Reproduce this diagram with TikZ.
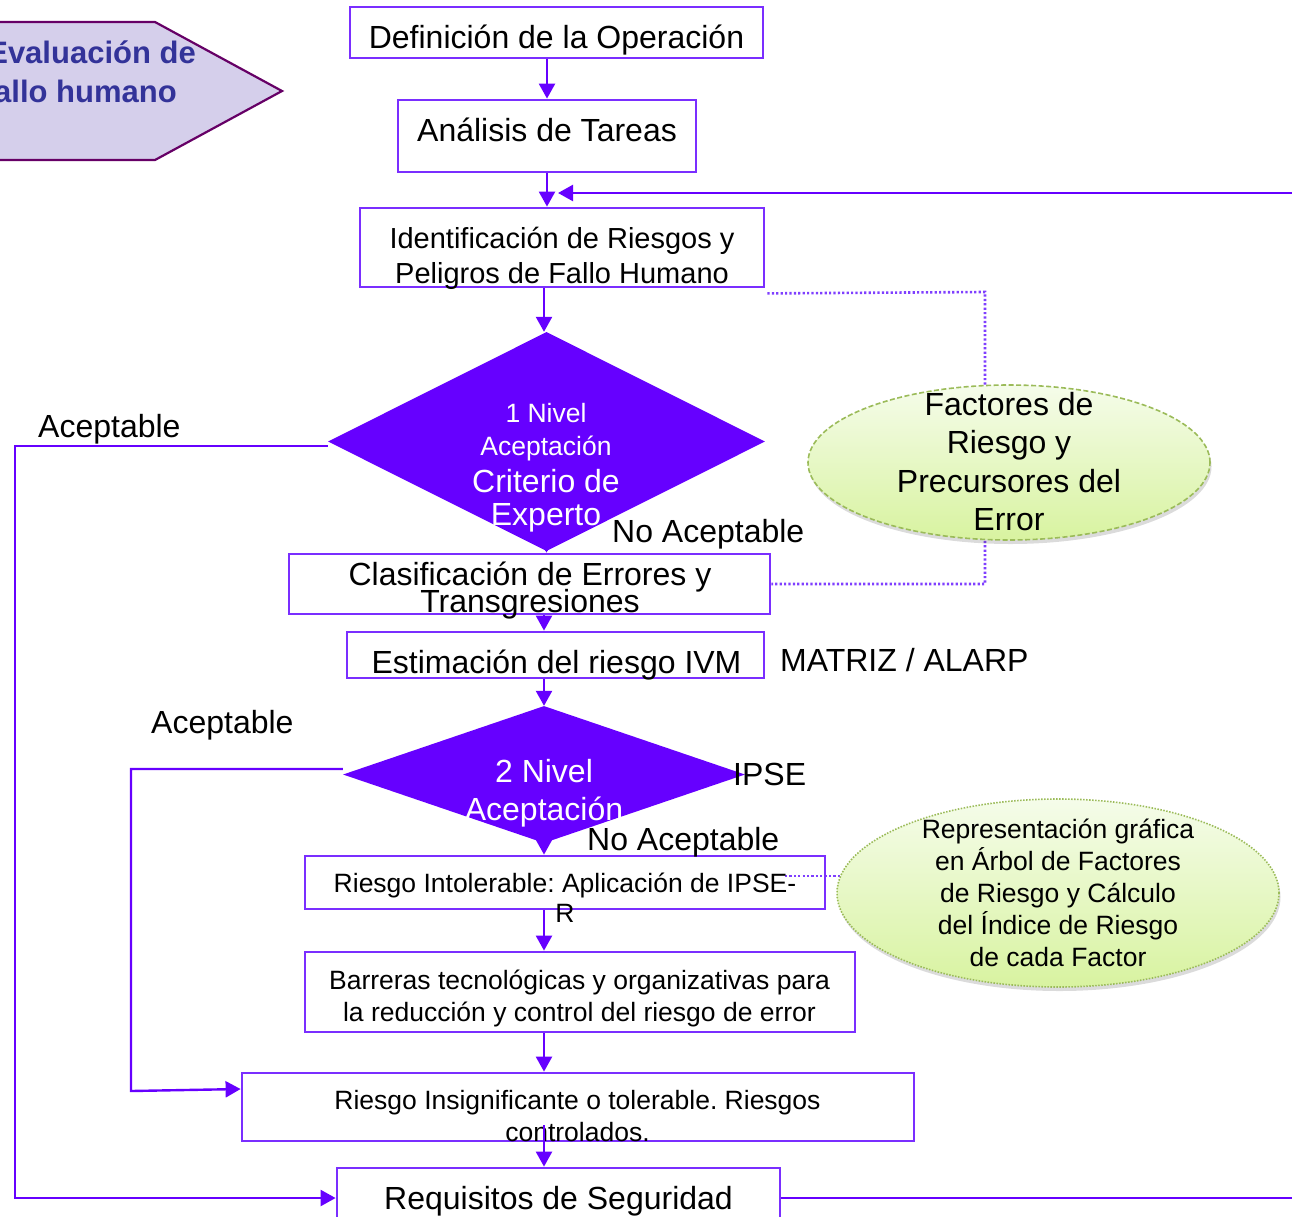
\documentclass[tikz,border=0pt]{standalone}
\usepackage{fontspec}
\setmainfont{Liberation Sans}
\usetikzlibrary{shapes.geometric,arrows.meta,shadows}
\frenchspacing
\definecolor{vio}{HTML}{6600FF}
\definecolor{boxc}{HTML}{7A2EFF}
\definecolor{dotc}{HTML}{7F3FFF}
\definecolor{lav}{HTML}{D5CFEB}
\definecolor{pent}{HTML}{660066}
\definecolor{ptxt}{HTML}{333399}
\definecolor{gtop}{HTML}{F5FCEA}
\definecolor{gbot}{HTML}{D8F3A0}
\definecolor{gline}{HTML}{9BBB59}
\pgfdeclarelayer{bg}
\pgfsetlayers{bg,main}
\begin{document}
\begin{tikzpicture}[x=1pt,y=-1pt,
  boxn/.style={draw=boxc, line width=2.8pt, rectangle, inner sep=0pt},
  arr/.style={draw=vio, line width=2.4pt, -{Triangle[length=15pt,width=16pt]}},
  dotln/.style={draw=dotc, line width=2.6pt, dash pattern=on 2.2pt off 2.2pt},
  tbig/.style={font=\fontsize{32}{38}\selectfont, anchor=base, inner sep=0pt},
  tmid/.style={font=\fontsize{29}{35}\selectfont, anchor=base, inner sep=0pt},
  tsml/.style={font=\fontsize{26.5}{32}\selectfont, anchor=base, inner sep=0pt},
  lbl/.style={font=\fontsize{32}{38}\selectfont, anchor=base west, inner sep=0pt},
  decis/.style={diamond, fill=vio, inner sep=0pt},
  greenov/.style={ellipse, top color=gtop, bottom color=gbot, line width=1.6pt, draw=gline,
     drop shadow={shadow xshift=1.5pt, shadow yshift=-4pt, opacity=0.2, fill=black!70}},
  ptitle/.style={font=\fontsize{31}{37}\selectfont\bfseries, text=ptxt, anchor=base east, inner sep=0pt}
]
\useasboundingbox (0,0) rectangle (1292,1216);

% pentagon
\draw[fill=lav, draw=pent, line width=2.2pt] (-10,22) -- (155,22) -- (282,91) -- (155,160) -- (-10,160) -- cycle;
\node[ptitle] (p1) at (196,63.5) {Evaluación de};
\node[ptitle] (p2) at (177,102) {Fallo humano};

% boxes
\node[boxn, minimum width=413pt, minimum height=51pt] (b1) at (556.5,32.5) {};
\node[boxn, minimum width=298pt, minimum height=72pt] (b2) at (547,136) {};
\node[boxn, minimum width=404pt, minimum height=79pt] (b3) at (562,247.5) {};
\node[boxn, minimum width=481pt, minimum height=60pt] (b4) at (529.5,584) {};
\node[boxn, minimum width=417pt, minimum height=46pt] (b5) at (555.5,655) {};
\node[boxn, minimum width=520pt, minimum height=53pt] (b6) at (565,882.5) {};
\node[boxn, minimum width=550pt, minimum height=80pt] (b7) at (580,992) {};
\node[boxn, minimum width=672pt, minimum height=68pt] (b8) at (578,1107) {};
\node[boxn, minimum width=443pt, minimum height=72pt] (b9) at (558.5,1204) {};

% diamonds
\node[decis, minimum width=437pt, minimum height=219pt] (d1) at (546.5,441.5) {};
\node[decis, minimum width=402pt, minimum height=137pt] (d2) at (544,774.5) {};

% coordinates
\coordinate (spine) at (544,0);
\coordinate (fbtip) at (558,193);
\coordinate (c89) at (544,1125);
\coordinate (d6s) at (785,876);

% connectors on background
\begin{pgfonlayer}{bg}
\draw[dotln] ([xshift=2pt,yshift=-5pt]b3.south east) -- (985,292) -- (985,584) -- (b4.east);
\draw[dotln] (d6s) -- (1058,876);
\draw[arr] (b2.north |- b1.south) -- (b2.north);
\draw[arr] (b2.south) -- (b2.south |- b3.north);
\draw[arr] (b3.south -| spine) -- (spine |- d1.north);
\draw[arr] (d1.south) -- (d1.south |- b4.north);
\draw[arr] (b4.south -| spine) -- (b5.north -| spine);
\draw[arr] (b5.south -| spine) -- (d2.north);
\draw[arr] (d2.south) -- (d2.south |- b6.north);
\draw[arr] (b6.south -| spine) -- (b7.north -| spine);
\draw[arr] (b7.south -| spine) -- (b8.north -| spine);
\draw[arr] ([yshift=6pt]b9.east) -- (1320,1198) |- (fbtip);
\draw[arr] ([yshift=-4.5pt]d1.west) -- (15,446) |- ([yshift=6pt]b9.west);
\draw[arr] ([yshift=5.5pt]d2.west) -- (131,769) -- (131,1091) -- ([yshift=18pt]b8.west);
\end{pgfonlayer}

% ellipses
\node[greenov, minimum width=402pt, minimum height=155pt, dash pattern=on 5pt off 2.5pt] (e1) at (1009,462.5) {};
\node[greenov, minimum width=442pt, minimum height=188pt, dash pattern=on 1.5pt off 1.5pt] (e2) at (1058,893) {};

% texts
\node[tbig] (t1) at (556.5,48.5) {Definición de la Operación};
\node[tbig] (t2) at (547,141.5) {Análisis de Tareas};
\node[tmid] (t3a) at (562,248.5) {Identificación de Riesgos y};
\node[tmid] (t3b) at (562,283) {Peligros de Fallo Humano};
\node[tsml, text=white] (td1a) at (546,422) {1 Nivel};
\node[tsml, text=white] (td1b) at (546,455) {Aceptación};
\node[tbig, text=white] (td1c) at (546,492) {Criterio de};
\node[tbig, text=white] (td1d) at (546,525.5) {Experto};
\node[tbig] (t4a) at (530,585) {Clasificación de Errores y};
\node[tbig] (t4b) at (530,612) {Transgresiones};
\node[tbig] (t5) at (556.5,673) {Estimación del riesgo IVM};
\node[tbig, text=white] (td2a) at (544,782) {2 Nivel};
\node[tbig, text=white] (td2b) at (544,820) {Aceptación};
\node[tsml] (t6a) at (565,892) {Riesgo Intolerable: Aplicación de IPSE-};
\node[tsml] (t6b) at (565,922) {R};
\node[tsml] (t7a) at (579.5,989.5) {Barreras tecnológicas y organizativas para};
\node[tsml] (t7b) at (579.5,1021.5) {la reducción y control del riesgo de error};
\node[tsml] (t8a) at (577.5,1109.5) {Riesgo Insignificante o tolerable. Riesgos};
\node[tsml] (t8b) at (577.5,1141.5) {controlados.};
\node[tbig] (t9) at (558.5,1209.5) {Requisitos de Seguridad};

\node[tbig] (te1a) at (1009,415) {Factores de};
\node[tbig] (te1b) at (1009,453.5) {Riesgo y};
\node[tbig] (te1c) at (1009,492) {Precursores del};
\node[tbig] (te1d) at (1009,530.5) {Error};

\node[tsml] (te2a) at (1058,838.5) {Representación gráfica};
\node[tsml] (te2b) at (1058,870.5) {en Árbol de Factores};
\node[tsml] (te2c) at (1058,902.5) {de Riesgo y Cálculo};
\node[tsml] (te2d) at (1058,934.5) {del Índice de Riesgo};
\node[tsml] (te2e) at (1058,966.5) {de cada Factor};

% labels
\node[lbl] (lacc1) at (38,437) {Aceptable};
\node[lbl] (lno1) at (612,542) {No Aceptable};
\node[lbl] (lmat) at (780,671) {MATRIZ / ALARP};
\node[lbl] (lacc2) at (151,733) {Aceptable};
\node[lbl] (lipse) at (733,785) {IPSE};
\node[lbl] (lno2) at (587,850) {No Aceptable};

% last arrow over text
\draw[arr] (c89) -- (c89 |- b9.north);
\end{tikzpicture}
\end{document}
